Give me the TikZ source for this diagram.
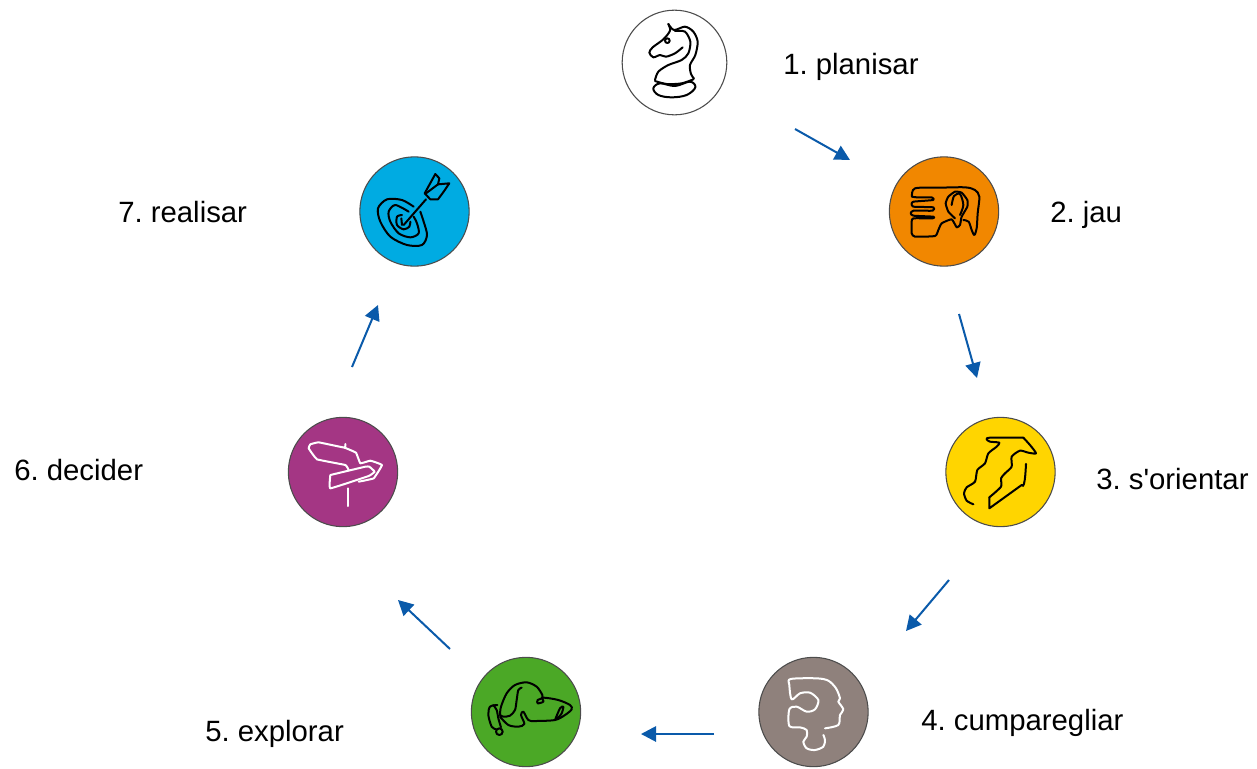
\documentclass[tikz,border=0pt]{standalone}
\usepackage{fontspec}
\newfontfamily\labfont{Liberation Sans}
\usetikzlibrary{arrows.meta}
\definecolor{cblue}{HTML}{0A5AAA}
\definecolor{corange}{HTML}{F18700}
\definecolor{cyellow}{HTML}{FFD500}
\definecolor{cgrey}{HTML}{8F817C}
\definecolor{cgreen}{HTML}{4BA826}
\definecolor{cpurple}{HTML}{A43684}
\definecolor{ccyan}{HTML}{00ABE2}
\tikzset{
  disc/.style={circle,draw=black!70!white,line width=0.8pt,minimum size=82pt,inner sep=0pt},
  lab/.style={anchor=base west,inner sep=0pt,font=\labfont\frenchspacing\fontsize{22pt}{26pt}\selectfont},
  link/.style={draw=cblue,line width=1.5pt,-{Triangle[length=11.3pt,width=11.5pt]}},
  ink/.style={line width=1.5pt,line join=round,line cap=round,draw=#1},
  ink/.default=black,
  sm/.style={smooth,tension=0.5},
  icon/.style={x=0.25pt,y=-0.25pt}
}
\begin{document}
\begin{tikzpicture}[x=0.75pt,y=-0.75pt]
\useasboundingbox (0,0) rectangle (1257,768);
% discs
\node[disc,fill=white,minimum size=78.5pt] (n1) at (674.5,62.5) {};
\node[disc,fill=corange] (n2) at (944,211.5) {};
\node[disc,fill=cyellow] (n3) at (1000.5,472) {};
\node[disc,fill=cgrey] (n4) at (813.5,712) {};
\node[disc,fill=cgreen] (n5) at (526,712) {};
\node[disc,fill=cpurple] (n6) at (343,472) {};
\node[disc,fill=ccyan] (n7) at (414.5,211.5) {};
% labels
\node[lab] (t1) at (783,74) {1. planisar};
\node[lab] (t2) at (1050,222) {2. jau};
\node[lab] (t3) at (1096,489) {3. s'orientar};
\node[lab] (t4) at (921,730) {4. cumparegliar};
\node[lab] (t5) at (205,741) {5. explorar};
\node[lab] (t6) at (14,480) {6. decider};
\node[lab] (t7) at (118,222) {7. realisar};
% connectors
\coordinate (a1) at (795,129); \coordinate (b1) at (850,160);
\coordinate (a2) at (959,314); \coordinate (b2) at (977,378);
\coordinate (a3) at (949,580); \coordinate (b3) at (906,631);
\coordinate (a4) at (714,734); \coordinate (b4) at (641,734);
\coordinate (a5) at (450,649); \coordinate (b5) at (398,600);
\coordinate (a6) at (352,367); \coordinate (b6) at (378,305);
\draw[link] (a1) -- (b1);
\draw[link] (a2) -- (b2);
\draw[link] (a3) -- (b3);
\draw[link] (a4) -- (b4);
\draw[link] (a5) -- (b5);
\draw[link] (a6) -- (b6);
% knight
\begin{scope}[shift={(610,0)},icon]
\draw[ink] plot[sm] coordinates {(175,72) (180,92) (160,118) (128,142) (118,158) (130,172) (150,165) (168,170) (195,160) (218,142)};
\draw[ink] plot[sm] coordinates {(175,72) (192,90) (225,80) (250,95) (263,125) (256,165) (240,195) (243,222) (252,236)};
\draw[ink] plot[sm] coordinates {(195,93) (225,95) (241,125) (235,160) (215,180) (175,195) (145,215) (135,240)};
\draw[ink] (172,122) circle[radius=7];
\draw[ink] plot[sm] coordinates {(135,243) (170,252) (215,250) (250,238)};
\draw[ink] plot[smooth cycle,tension=0.6] coordinates {(130,265) (150,250) (195,258) (240,245) (256,262) (230,285) (185,292) (145,285)};
\end{scope}
% ID card
\begin{scope}[shift={(880,150)},icon]
\draw[ink] plot[sm] coordinates {(96,140) (105,115) (180,113) (255,112) (285,120) (298,140) (293,190) (290,235) (283,255) (275,240) (266,215) (250,210)};
\draw[ink] plot[smooth,tension=0.3] coordinates {(96,140) (110,142) (155,142) (160,150) (100,155) (95,162) (100,170) (160,172) (158,182) (100,182) (92,190) (100,197) (160,200) (158,205) (100,205) (95,215) (95,250) (105,260) (165,258) (175,240) (185,220) (215,208) (230,232) (240,225) (245,200) (262,170) (262,150) (245,128) (225,125) (205,140) (197,160) (205,185) (225,205)};
\draw[ink] plot[sm] coordinates {(215,165) (222,138) (240,132) (250,165) (240,195)};
\end{scope}
% chess / path
\begin{scope}[shift={(940,410)},icon]
\draw[ink] plot[smooth,tension=0.4] coordinates {(100,283) (80,272) (72,250) (80,232) (105,215) (112,180) (135,160) (145,130) (170,110) (178,98) (150,95) (140,88) (150,83) (250,83)};
\draw[ink] plot[smooth,tension=0.4] coordinates {(250,83) (270,105) (288,130) (265,128) (240,122) (215,140) (215,170) (195,190) (183,205) (183,230) (148,262)};
\draw[ink] (148,262) -- (148,295) -- (245,225) to[out=-60,in=90] (258,165);
\end{scope}
% head puzzle
\begin{scope}[shift={(750,650)},icon]
\draw[ink=white] plot[smooth,tension=0.5] coordinates {(225,235) (265,225) (270,195) (280,178) (265,155) (270,145) (258,115) (235,92) (200,85) (122,87) (118,105) (125,148) (150,130) (180,128) (205,150) (195,178) (170,185) (140,170) (118,178) (118,228) (150,232) (170,240) (170,260) (160,275) (170,295) (195,300) (220,290) (225,270) (220,255)};
\end{scope}
% dog
\begin{scope}[shift={(465,650)},icon]
\draw[ink] plot[sm] coordinates {(105,195) (108,170) (125,130) (150,105) (185,97) (215,110) (232,135) (230,145) (218,150) (218,160) (235,155) (234,143) (280,150) (315,165) (320,178) (300,195) (270,210) (210,213) (190,210) (175,185) (168,195) (178,222) (160,230) (130,225) (105,200)};
\draw[ink] plot[sm] coordinates {(170,113) (160,120) (155,150) (150,180) (135,197) (115,200) (105,195)};
\draw[ink] plot[sm] coordinates {(97,165) (75,170) (70,195) (80,230) (93,238)};
\draw[ink] plot[sm] coordinates {(85,165) (95,180) (100,205) (108,232)};
\draw[ink] (103,245) circle[radius=10];
\draw[ink] plot[sm] coordinates {(270,210) (285,175) (295,170) (290,190) (278,205)};
\end{scope}
% signpost
\begin{scope}[shift={(282,410)},icon]
\draw[ink=white] plot[smooth,tension=0.15] coordinates {(190,102) (188,113) (110,97) (85,103) (80,115) (105,148) (190,165) (200,180)};
\draw[ink=white] plot[smooth,tension=0.15] coordinates {(188,113) (222,128) (235,160) (265,152) (300,165) (275,205) (230,215)};
\draw[ink=white] plot[smooth,tension=0.15] coordinates {(145,195) (250,170) (262,170) (278,185) (260,198) (145,235) (145,195)};
\draw[ink=white] (197,235) -- (197,288);
\end{scope}
% target
\begin{scope}[shift={(352,150)},icon]
\draw[ink] plot[sm] coordinates {(185,170) (150,150) (105,148) (78,175) (85,215) (115,260) (165,285) (210,285) (225,255) (215,215) (205,185)};
\draw[ink] plot[sm] coordinates {(170,185) (130,165) (110,185) (115,215) (140,250) (175,262) (200,250) (195,220) (185,200)};
\draw[ink] plot[sm] coordinates {(150,195) (135,200) (135,225) (155,238) (172,230) (175,215)};
\draw[ink] (155,225) -- (222,148);
\draw[ink] (218,130) -- (250,72) -- (262,85) -- (258,103) -- (292,100) -- (275,125) -- (258,148) -- (235,148) -- cycle;
\draw[ink] (222,130) -- (258,103);
\draw[ink] (150,225) -- (148,205);
\end{scope}
\end{tikzpicture}
\end{document}
